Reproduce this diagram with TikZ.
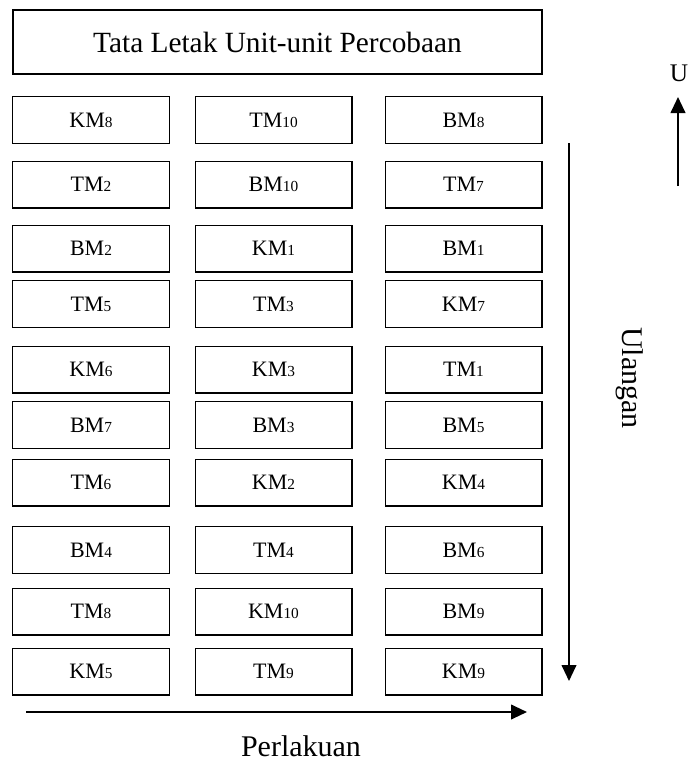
\documentclass[tikz,border=0pt]{standalone}
\usepackage{fontspec}
\setmainfont{Liberation Serif}
\usetikzlibrary{arrows.meta,positioning}
\definecolor{ink}{HTML}{000000}
\tikzset{
  plotbox/.style={draw=ink, line width=1pt, inner sep=0pt, text=ink,
    minimum width=117.5pt, minimum height=35pt, font=\fontsize{16.5}{18}\selectfont},
  header/.style={draw=ink, line width=1pt, inner sep=0pt, text=ink,
    minimum width=396.75pt, minimum height=48pt, font=\fontsize{22}{24}\selectfont},
  dirarrow/.style={-{Triangle[length=12pt,width=11pt]}, draw=ink, line width=1.5pt},
  dirlabel/.style={text=ink, inner sep=0pt, font=\fontsize{22.5}{24}\selectfont}
}
\newcommand{\plotlbl}[2]{#1{\fontsize{11.5}{12}\selectfont #2}}
\newcommand{\plotrow}[5]{%
  \node[plotbox] (#1a) at (91,#2) {#3};
  \node[plotbox] (#1b) at (273.5,#2) {#4};
  \node[plotbox] (#1c) at (463.5,#2) {#5};
}

\begin{document}
\begin{tikzpicture}[x=0.75pt,y=-0.75pt]
  \useasboundingbox (0,0) rectangle (692,772);
  \fill[white] (0,0) rectangle (692,772);

  % Title box.
  \node[header] (title) at (277.5,42) {Tata Letak Unit-unit Percobaan};

  % Experimental units, three columns.
  \plotrow{ra}{120}{\plotlbl{KM}{8}}{\plotlbl{TM}{10}}{\plotlbl{BM}{8}}
  \plotrow{rb}{184.5}{\plotlbl{TM}{2}}{\plotlbl{BM}{10}}{\plotlbl{TM}{7}}
  \plotrow{rc}{248.5}{\plotlbl{BM}{2}}{\plotlbl{KM}{1}}{\plotlbl{BM}{1}}
  \plotrow{rd}{304}{\plotlbl{TM}{5}}{\plotlbl{TM}{3}}{\plotlbl{KM}{7}}
  \plotrow{re}{369.5}{\plotlbl{KM}{6}}{\plotlbl{KM}{3}}{\plotlbl{TM}{1}}
  \plotrow{rf}{425}{\plotlbl{BM}{7}}{\plotlbl{BM}{3}}{\plotlbl{BM}{5}}
  \plotrow{rg}{482.5}{\plotlbl{TM}{6}}{\plotlbl{KM}{2}}{\plotlbl{KM}{4}}
  \plotrow{rh}{550}{\plotlbl{BM}{4}}{\plotlbl{TM}{4}}{\plotlbl{BM}{6}}
  \plotrow{ri}{611.5}{\plotlbl{TM}{8}}{\plotlbl{KM}{10}}{\plotlbl{BM}{9}}
  \plotrow{rj}{671.5}{\plotlbl{KM}{5}}{\plotlbl{TM}{9}}{\plotlbl{KM}{9}}

  % North marker.
  \node[dirlabel, font=\fontsize{19}{21}\selectfont] (north) at (679,73) {U};
  \coordinate (northfoot) at (678,186);
  \coordinate (northtip) at (678,97);
  \draw[dirarrow] (northfoot) -- (northtip);

  % Replication direction.
  \coordinate (ulstart) at (569,143);
  \coordinate (ulend) at (569,681);
  \draw[dirarrow] (ulstart) -- (ulend);
  \node[dirlabel, rotate=-90] (ulangan) at (630,378) {Ulangan};

  % Treatment direction.
  \coordinate (plstart) at (26,712);
  \coordinate (plend) at (527,712);
  \draw[dirarrow] (plstart) -- (plend);
  \node[dirlabel] (perlakuan) at (301,746) {Perlakuan};

\end{tikzpicture}
\end{document}
